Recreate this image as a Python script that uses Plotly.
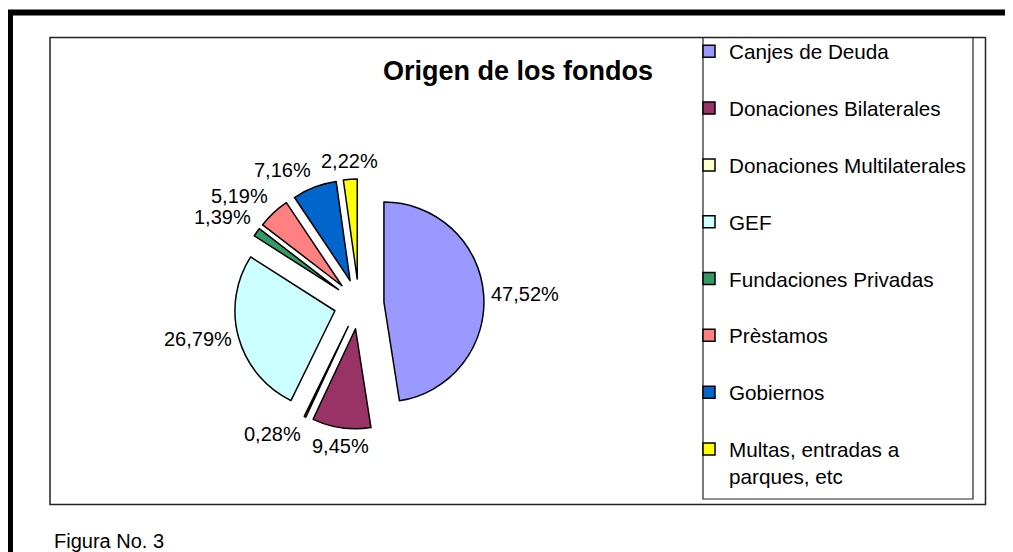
import math
import plotly.graph_objects as go

# ---- data ----
categories = [
    "Canjes de Deuda",
    "Donaciones Bilaterales",
    "Donaciones Multilaterales",
    "GEF",
    "Fundaciones Privadas",
    "Prèstamos",
    "Gobiernos",
    "Multas, entradas a<br>parques, etc",
]
shares = [47.52, 9.45, 0.28, 26.79, 1.39, 5.19, 7.16, 2.22]
slice_colors = ["#9999FF", "#993366", "#FFFFCC", "#CCFFFF",
                "#339966", "#FF8080", "#0066CC", "#FFFF00"]
title_text = "Origen de los fondos"
caption_text = "Figura No. 3"

# The page body has an 8px default margin: size the figure so it fits the
# 1013x552 window, and express positions in window pixels.
OFF = 8
W, H = 1013 - OFF, 552 - OFF
FONT = "Arial, 'Liberation Sans', sans-serif"


def px(x):
    return (x - OFF) / W


def py(y):
    return 1 - (y - OFF) / H


# legend names: single-line names get an empty second line so that every
# entry has the same (two-line) height, as in the reference
legend_names = [c if "<br>" in c else c + "<br> " for c in categories]

# pie geometry (window pixels) -> domain
cx, cy, r, pull = 359, 304, 100, 0.25
half = r * (1 + pull)
dom_x = [px(cx - half), px(cx + half)]
dom_y = [py(cy + half), py(cy - half)]

fig = go.Figure()
fig.add_trace(go.Pie(
    labels=legend_names,
    values=shares,
    sort=False,
    direction="clockwise",
    rotation=0,
    pull=pull,
    marker=dict(colors=slice_colors, line=dict(color="black", width=1.5)),
    textinfo="none",
    hoverinfo="skip",
    domain=dict(x=dom_x, y=dom_y),
    showlegend=True,
))

# data labels: placed just outside each exploded slice, along its bisector
annotations = []
total = sum(shares)
cum = 0.0
gap = 6
for v in shares:
    ang = (cum + v / 2) / total * 2 * math.pi
    cum += v
    s, c = math.sin(ang), math.cos(ang)
    R = r * (1 + pull) + gap
    X, Y = cx + R * s, cy - R * c
    xa = "left" if s > 0.35 else ("right" if s < -0.35 else "center")
    ya = "bottom" if c > 0.35 else ("top" if c < -0.35 else "middle")
    annotations.append(dict(
        text=f"{v:.2f}%".replace(".", ","), xref="paper", yref="paper",
        x=px(X), y=py(Y), xanchor=xa, yanchor=ya, showarrow=False,
        borderpad=0, font=dict(family=FONT, size=20, color="black")))

annotations.append(dict(text=caption_text, xref="paper", yref="paper",
                        x=px(52), y=py(540.5), xanchor="left", yanchor="middle",
                        showarrow=False,
                        font=dict(family=FONT, size=20, color="black")))

shapes = [
    # thick outer frame (cut off at right/bottom)
    dict(type="rect", xref="paper", yref="paper",
         x0=px(10), x1=px(1040), y0=py(12.5), y1=py(600),
         line=dict(color="black", width=6), fillcolor="rgba(0,0,0,0)"),
    # chart area frame
    dict(type="rect", xref="paper", yref="paper",
         x0=px(50), x1=px(985.5), y0=py(37.5), y1=py(504.5),
         line=dict(color="#222222", width=1.5), fillcolor="rgba(0,0,0,0)"),
    # legend frame
    dict(type="rect", xref="paper", yref="paper",
         x0=px(703), x1=px(973), y0=py(37.5), y1=py(499),
         line=dict(color="#222222", width=1.2), fillcolor="rgba(0,0,0,0)"),
]

fig.update_layout(
    width=W, height=H,
    margin=dict(l=0, r=0, t=0, b=0),
    paper_bgcolor="white",
    plot_bgcolor="white",
    separators=",.",
    font=dict(family=FONT, color="black"),
    title=dict(text="<b>" + title_text + "</b>", x=px(518), xanchor="center",
               xref="paper", yref="paper", y=py(70.5), yanchor="middle",
               font=dict(family=FONT, size=27, color="black")),
    legend=dict(x=px(689), xanchor="left", y=py(31.3), yanchor="top",
                bgcolor="rgba(0,0,0,0)", borderwidth=0,
                font=dict(family=FONT, size=20.7, color="black"),
                valign="top", traceorder="normal"),
    shapes=shapes,
    annotations=annotations,
)

fig.write_html("out.html", config=dict(displayModeBar=False))
